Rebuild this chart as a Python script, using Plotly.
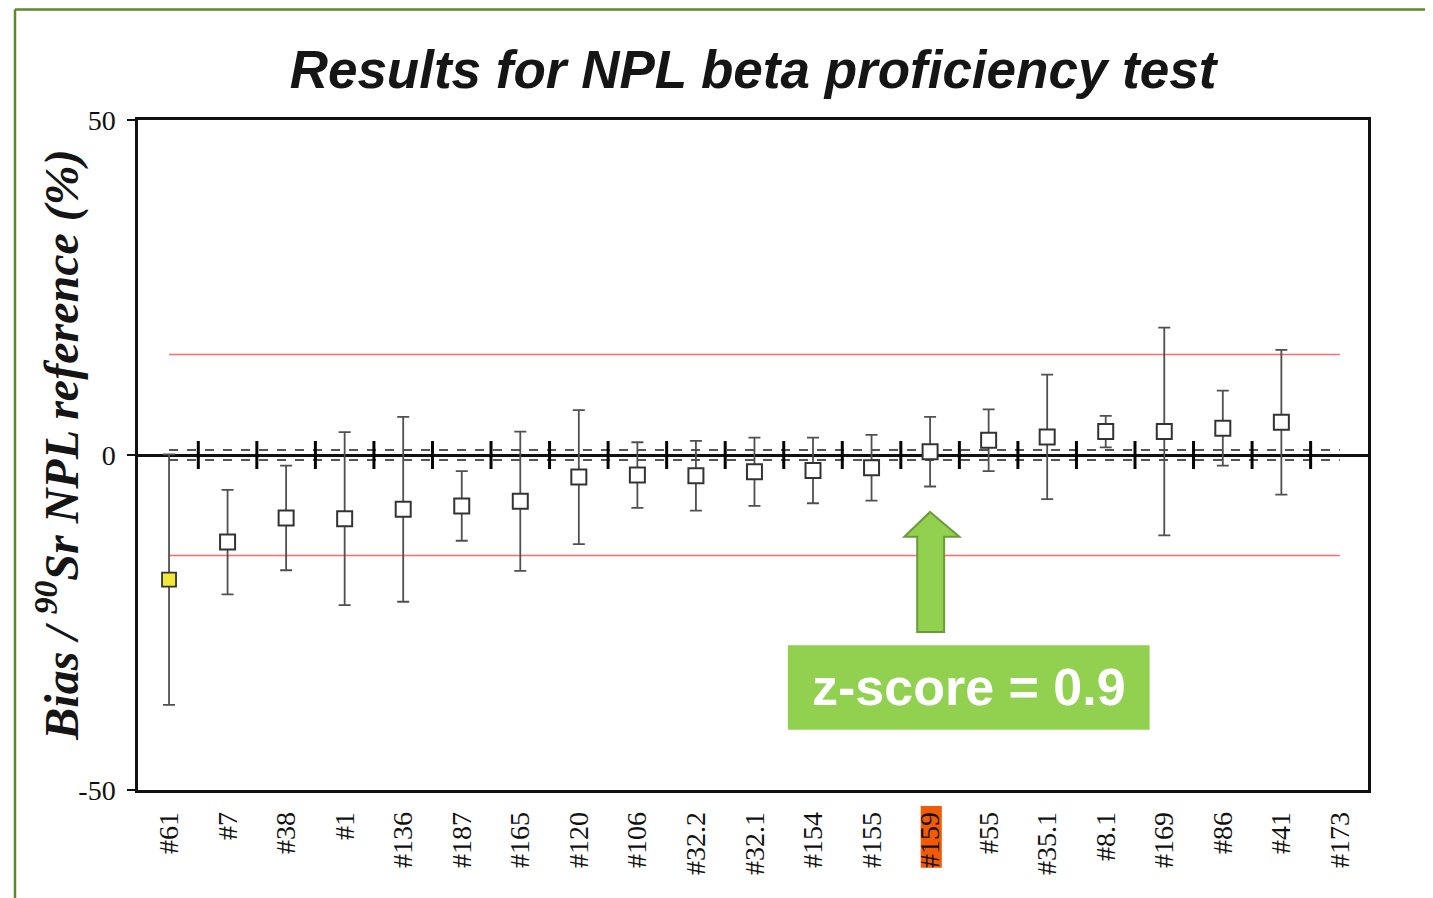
import plotly.graph_objects as go

labels = ["#61", "#7", "#38", "#1", "#136", "#187", "#165", "#120", "#106", "#32.2",
          "#32.1", "#154", "#155", "#159", "#55", "#35.1", "#8.1", "#169", "#86", "#41", "#173"]
bias = [-18.6, -13.0, -9.4, -9.5, -8.1, -7.6, -6.9, -3.3, -3.0, -3.1,
        -2.5, -2.3, -1.9, 0.5, 2.2, 2.7, 3.5, 3.5, 4.0, 4.9, None]
unc = [18.7, 7.8, 7.8, 12.9, 13.8, 5.2, 10.4, 10.0, 4.9, 5.2,
       5.1, 4.9, 4.9, 5.2, 4.6, 9.3, 2.35, 15.5, 5.6, 10.8, None]
limit = 15.0      # red action limits (%)
ref_unc = 0.75    # dashed reference uncertainty band (%)
y_ticks = [-50, 0, 50]
y_tick_text = ["-50", "0", "50"]
highlight = "#159"
zscore_text = "z-score = 0.9"

x = list(range(len(labels)))
hi = labels.index(highlight)

fig = go.Figure()

# red limit lines
for v in (limit, -limit):
    fig.add_trace(go.Scatter(x=[x[0], x[-1]], y=[v, v], mode="lines",
                             line=dict(color="#FF6A6A", width=1.6), hoverinfo="skip", showlegend=False))
# dashed reference band
for v in (ref_unc, -ref_unc):
    fig.add_trace(go.Scatter(x=[x[0], x[-1]], y=[v, v], mode="lines",
                             line=dict(color="#555555", width=2, dash="dash"), hoverinfo="skip", showlegend=False))

# error bars + open squares
fig.add_trace(go.Scatter(
    x=x[1:], y=bias[1:], mode="markers",
    error_y=dict(type="data", array=unc[1:], color="#505050", thickness=1.8, width=6),
    marker=dict(symbol="square", size=15, color="white", line=dict(color="#333333", width=2)),
    showlegend=False))
# first (yellow) point
fig.add_trace(go.Scatter(
    x=x[:1], y=bias[:1], mode="markers",
    error_y=dict(type="data", array=unc[:1], color="#505050", thickness=1.8, width=6),
    marker=dict(symbol="square", size=14, color="#F2E83A", line=dict(color="#333333", width=1.8)),
    showlegend=False))

# short separators on the zero line
mids = [i + 0.5 for i in x[:-1]]
fig.add_trace(go.Scatter(x=mids, y=[0] * len(mids), mode="markers",
                         marker=dict(symbol="line-ns", size=20, line=dict(color="black", width=3)),
                         hoverinfo="skip", showlegend=False))

shapes = []
# green outer frame
shapes.append(dict(type="line", xref="paper", yref="paper", x0=-0.1, x1=1.2, y0=1.1649, y1=1.1649,
                   line=dict(color="#5B8A2C", width=2.5)))
shapes.append(dict(type="line", xref="paper", yref="paper", x0=-0.1, x1=-0.1, y0=1.1649, y1=-0.3,
                   line=dict(color="#5B8A2C", width=2.5)))
# highlight behind #159 tick label
shapes.append(dict(type="rect", xref="x", yref="paper", x0=hi - 0.16, x1=hi + 0.2, y0=-0.116, y1=-0.024,
                   fillcolor="#F25A05", line=dict(width=0), layer="below"))
# block arrow
ax = hi
path = (f"M {ax} -8.5 L {ax+0.5} -12.2 L {ax+0.24} -12.2 L {ax+0.24} -26.4 "
        f"L {ax-0.22} -26.4 L {ax-0.22} -12.2 L {ax-0.44} -12.2 Z")
shapes.append(dict(type="path", xref="x", yref="y", path=path,
                   fillcolor="#92D050", line=dict(color="#6B9A38", width=2)))
# z-score box
shapes.append(dict(type="rect", xref="x", yref="y", x0=10.57, x1=16.75, y0=-41.0, y1=-28.4,
                   fillcolor="#92D050", line=dict(width=0)))

W, H = 1425, 890
fig.update_layout(
    width=W, height=H,
    margin=dict(l=130, r=65, t=112, b=108),
    paper_bgcolor="white", plot_bgcolor="white",
    shapes=shapes,
    title=dict(text="<b><i>Results for NPL beta proficiency test</i></b>",
               x=(745 - 0) / W, xanchor="center", y=1 - 61 / H, yanchor="middle",
               font=dict(family="Liberation Sans", size=53, color="#151515")),
    annotations=[
        dict(text=zscore_text, xref="x", yref="y", x=13.66, y=-34.7, showarrow=False,
             font=dict(family="Liberation Sans", size=52, color="white", weight="bold")),
        dict(text="<b><i>Bias / <sup>90</sup>Sr NPL reference (%)</i></b>", xref="paper", yref="paper",
             x=-0.065, y=0.514, textangle=-90, showarrow=False, xanchor="center", yanchor="middle",
             font=dict(family="Liberation Serif", size=48, color="#151515")),
    ],
)
fig.update_xaxes(range=[-0.53, 20.48], tickvals=x, ticktext=labels, tickangle=-90,
                 ticks="", showgrid=False, zeroline=False,
                 showline=True, mirror=True, linecolor="#111111", linewidth=2.5,
                 tickfont=dict(family="Liberation Serif", size=28, color="#111111"),
                 ticklabelstandoff=8)
fig.update_yaxes(range=[-50, 50], tickvals=y_ticks, ticktext=y_tick_text, ticks="outside", ticklen=8,
                 tickwidth=2, tickcolor="#111111", showgrid=False, zeroline=True, zerolinecolor="#111111",
                 zerolinewidth=3, showline=True, mirror=True, linecolor="#111111", linewidth=2.5,
                 tickfont=dict(family="Liberation Serif", size=28, color="#111111"),
                 ticklabelstandoff=6)

fig.write_html("out.html")
